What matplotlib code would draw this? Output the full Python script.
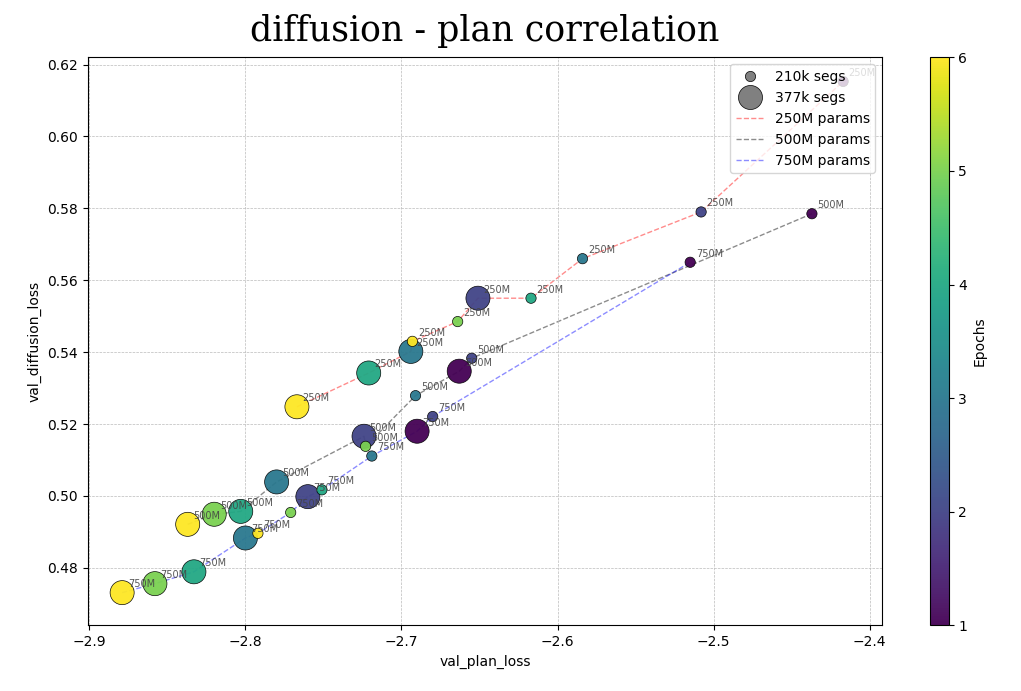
import numpy as np
import matplotlib
matplotlib.use("Agg")
import matplotlib.pyplot as plt
from matplotlib.lines import Line2D

# 250M params
plan_250 = [-2.767, -2.721, -2.694, -2.693, -2.664, -2.651, -2.617, -2.584, -2.508, -2.417]
diff_250 = [0.5248, 0.5342, 0.5402, 0.5430, 0.5485, 0.5550, 0.5550, 0.5660, 0.5790, 0.6153]
epoch_250 = [6, 4, 3, 6, 5, 2, 4, 3, 2, 1]
big_250 = [1, 1, 1, 0, 0, 1, 0, 0, 0, 0]

# 500M params
plan_500 = [-2.837, -2.820, -2.803, -2.780, -2.724, -2.723, -2.691, -2.663, -2.655, -2.437]
diff_500 = [0.4921, 0.4949, 0.4957, 0.5039, 0.5166, 0.5138, 0.5279, 0.5347, 0.5383, 0.5785]
epoch_500 = [6, 5, 4, 3, 2, 5, 3, 1, 2, 1]
big_500 = [1, 1, 1, 1, 1, 0, 0, 1, 0, 0]

# 750M params
plan_750 = [-2.879, -2.858, -2.833, -2.800, -2.792, -2.771, -2.760, -2.751, -2.719, -2.690, -2.680, -2.515]
diff_750 = [0.4731, 0.4756, 0.4789, 0.4883, 0.4896, 0.4954, 0.4998, 0.5017, 0.5111, 0.5180, 0.5221, 0.5650]
epoch_750 = [6, 5, 4, 3, 6, 5, 2, 4, 3, 1, 2, 1]
big_750 = [1, 1, 1, 1, 0, 0, 1, 0, 0, 1, 0, 0]

SERIES = [
    ("250M", plan_250, diff_250, epoch_250, big_250, "red"),
    ("500M", plan_500, diff_500, epoch_500, big_500, "black"),
    ("750M", plan_750, diff_750, epoch_750, big_750, "blue"),
]
SMALL, BIG = 55, 300

fig, ax = plt.subplots(figsize=(10.21, 6.91), dpi=100)
fig.subplots_adjust(left=0.086, right=0.864, top=0.917, bottom=0.095)

sc = None
for name, xs, ys, ep, big, col in SERIES:
    xs, ys = np.array(xs), np.array(ys)
    order = np.argsort(xs)
    ax.plot(xs[order], ys[order], "--", color=col, alpha=0.45, lw=1, zorder=1)
    sizes = np.where(np.array(big) == 1, BIG, SMALL)
    sc = ax.scatter(xs, ys, c=ep, s=sizes, cmap="viridis", vmin=1, vmax=6,
                    edgecolors="black", linewidths=0.5, alpha=0.95, zorder=2)
    for x, y in zip(xs, ys):
        ax.annotate(name, (x, y), xytext=(4, 4), textcoords="offset points",
                    fontsize=7, color="#444", alpha=0.9)

ax.set_xlim(-2.901, -2.392)
ax.set_ylim(0.464, 0.622)
ax.grid(True, ls="--", lw=0.5, color="#bbb")
ax.set_xlabel("val_plan_loss")
ax.set_ylabel("val_diffusion_loss")
ax.set_title("diffusion - plan correlation", fontsize=25, family="DejaVu Serif", pad=12)

handles = [
    Line2D([], [], marker="o", ls="", color="gray", markeredgecolor="black", markeredgewidth=0.5, markersize=7.4),
    Line2D([], [], marker="o", ls="", color="gray", markeredgecolor="black", markeredgewidth=0.5, markersize=17.3),
    Line2D([], [], ls="--", color="red", alpha=0.45, lw=1),
    Line2D([], [], ls="--", color="black", alpha=0.45, lw=1),
    Line2D([], [], ls="--", color="blue", alpha=0.45, lw=1),
]
ax.legend(handles, ["210k segs", "377k segs", "250M params", "500M params", "750M params"],
          loc="upper right", fontsize=10, framealpha=0.8)

cax = fig.add_axes([0.911, 0.095, 0.018, 0.822])
cb = fig.colorbar(sc, cax=cax)
cb.set_label("Epochs")

fig.savefig("out.png", dpi=100)
